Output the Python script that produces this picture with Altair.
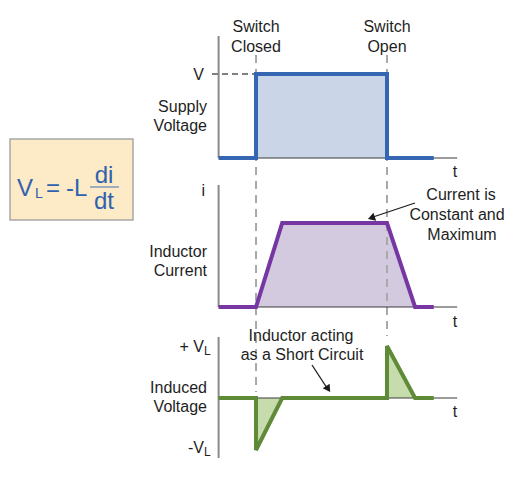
import altair as alt
import pandas as pd

# ---------------- data (time in arbitrary units; switch closes at t=2, opens at t=9)
supply_t = [0, 2, 2, 9, 9, 11.5]
supply_v = [0, 0, 1, 1, 0, 0]
current_t = [0, 2, 3.4, 9, 10.5, 11.5]
current_i = [0, 0, 1, 1, 0, 0]
induced_t = [0, 2, 2, 3.4, 9, 9, 10.5, 11.5]
induced_v = [0, 0, -1, 0, 0, 1, 0, 0]
switch_t = [2, 9]
switch_top = ["Switch", "Switch"]
switch_bottom = ["Closed", "Open"]
t_axis_end = 12.75

# ---------------- layout
W, H = 499, 464
PX0, PXU = 218.6, 18.71          # page x of t=0 and pixels per time unit
T_MIN = (8 - PX0) / PXU
T_MAX = (8 + W - PX0) / PXU


def tx(px):
    return (px - PX0) / PXU


FONT = "Liberation Sans"
TXT = "#1e1e1e"

X = alt.X("x:Q", scale=alt.Scale(domain=[T_MIN, T_MAX], zero=False, nice=False), axis=None)
Y = alt.Y("y:Q", scale=alt.Scale(domain=[8, 8 + H], zero=False, nice=False, reverse=True), axis=None)
X2 = alt.X2("x2:Q")
Y2 = alt.Y2("y2:Q")

panels = [
    dict(t=supply_t, v=supply_v, base=158, amp=84, top=36, bottom=158, line="#3566b1", fill="#cad6e7"),
    dict(t=current_t, v=current_i, base=307, amp=84, top=185, bottom=307, line="#7637a3", fill="#d3cae0"),
    dict(t=induced_t, v=induced_v, base=398, amp=52, top=337, bottom=458, line="#5f8a38", fill="#c7dcad"),
]

layers = []

# formula box
box = pd.DataFrame([dict(x=tx(10), x2=tx(133), y=139, y2=220)])
layers.append(alt.Chart(box).mark_rect(fill="#fdeac6", stroke="#a8a8a8", strokeWidth=1.5)
              .encode(x=X, x2=X2, y=Y, y2=Y2))

# areas
for p in panels:
    df = pd.DataFrame(dict(x=p["t"], y=[p["base"] - v * p["amp"] for v in p["v"]]))
    df["y2"] = p["base"]
    layers.append(alt.Chart(df).mark_area(color=p["fill"], opacity=1)
                  .encode(x=X, y=Y, y2=Y2))

# dashed switch markers
sw = pd.DataFrame(dict(x=switch_t, y=[55, 55], y2=[392, 336]))
layers.append(alt.Chart(sw).mark_rule(color="#a9a9a9", strokeWidth=2, strokeDash=[8, 6])
              .encode(x=X, y=Y, y2=Y2))

# dashed V level line
vdash = pd.DataFrame([dict(x=tx(212), x2=switch_t[0], y=74)])
layers.append(alt.Chart(vdash).mark_rule(color="#555555", strokeWidth=1.5, strokeDash=[6, 4])
              .encode(x=X, x2=X2, y=Y))

# axes
vax = pd.DataFrame(dict(x=[0, 0, 0], y=[p["top"] for p in panels], y2=[p["bottom"] for p in panels]))
layers.append(alt.Chart(vax).mark_rule(color="#8a8a8a", strokeWidth=2).encode(x=X, y=Y, y2=Y2))
hax = pd.DataFrame(dict(x=[0, 0, 0], x2=[t_axis_end] * 3, y=[p["base"] for p in panels]))
layers.append(alt.Chart(hax).mark_rule(color="#3a3a3a", strokeWidth=1.2).encode(x=X, x2=X2, y=Y))

# signal lines
for p in panels:
    df = pd.DataFrame(dict(x=p["t"], y=[p["base"] - v * p["amp"] for v in p["v"]]))
    df["idx"] = range(len(df))
    layers.append(alt.Chart(df).mark_line(color=p["line"], strokeWidth=4)
                  .encode(x=X, y=Y, order="idx:Q"))


def text_layer(rows, align, size, color=TXT):
    df = pd.DataFrame(rows, columns=["x", "y", "text"])
    return (alt.Chart(df).mark_text(align=align, baseline="alphabetic", font=FONT,
                                    fontSize=size, color=color)
            .encode(x=X, y=Y, text="text:N"))


# left labels (right aligned)
layers.append(text_layer([
    (tx(204), 80, "V"),
    (tx(207), 112, "Supply"), (tx(207), 131, "Voltage"),
    (tx(205), 196, "i"),
    (tx(207), 257, "Inductor"), (tx(207), 276, "Current"),
    (tx(207), 393, "Induced"), (tx(207), 412, "Voltage"),
    (tx(204), 352, "+ V"), (tx(204), 453, "-V"),
], "right", 16))
layers.append(text_layer([(tx(204), 355, "L"), (tx(204), 456, "L")], "left", 12))

# centered labels
layers.append(text_layer([
    (switch_t[0], 32, switch_top[0]), (switch_t[0], 52, switch_bottom[0]),
    (switch_t[1], 32, switch_top[1]), (switch_t[1], 52, switch_bottom[1]),
    (tx(455), 177, "t"), (tx(455), 327, "t"), (tx(455), 417, "t"),
    (tx(461), 200, "Current is"), (tx(457), 220, "Constant and"), (tx(462), 240, "Maximum"),
    (tx(301), 341, "Inductor acting"), (tx(302), 360, "as a Short Circuit"),
], "center", 16))

# formula
FC = "#2f62ae"
layers.append(text_layer([(tx(17), 196, "V")], "left", 24, FC))
layers.append(text_layer([(tx(35), 198, "L")], "left", 14, FC))
layers.append(text_layer([(tx(53), 196, "="), (tx(104), 183, "di"), (tx(104), 209, "dt")], "center", 24, FC))
layers.append(text_layer([(tx(66), 196, "-L")], "left", 24, FC))
frac = pd.DataFrame([dict(x=tx(90), x2=tx(119), y=187)])
layers.append(alt.Chart(frac).mark_rule(color="#7a98bd", strokeWidth=1.5).encode(x=X, x2=X2, y=Y))

# arrows
arr = pd.DataFrame(dict(x=[tx(415), tx(312)], x2=[tx(373), tx(327)], y=[203, 365], y2=[217, 388]))
layers.append(alt.Chart(arr).mark_rule(color="#1a1a1a", strokeWidth=1.3).encode(x=X, x2=X2, y=Y, y2=Y2))
heads = pd.DataFrame(dict(x=[tx(372.5), tx(327.5)], y=[217.5, 388], ang=[251, 146]))
layers.append(alt.Chart(heads).mark_point(shape="triangle", filled=True, size=70, color="#1a1a1a", opacity=1)
              .encode(x=X, y=Y, angle=alt.Angle("ang:Q", scale=None)))

chart = (alt.layer(*layers)
         .properties(width=W, height=H, padding=0, autosize=alt.AutoSizeParams(type="none"))
         .configure_view(stroke=None))

chart.save("out.html", embed_options={"renderer": "svg", "actions": False})
